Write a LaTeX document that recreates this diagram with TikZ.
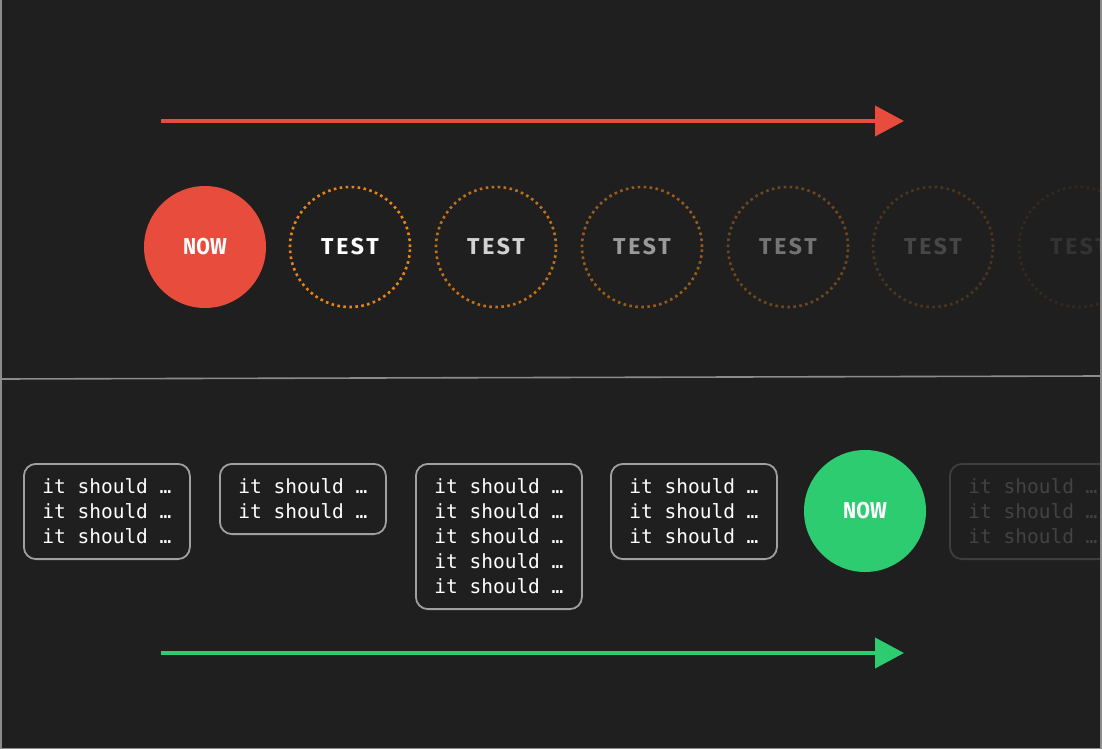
\documentclass[tikz,border=0pt]{standalone}
\usepackage{fontspec}
\setmainfont{Fira Sans}
\newfontfamily\codefont{DejaVu Sans Mono}
\usetikzlibrary{arrows.meta}
\definecolor{bg}{HTML}{1F1F1F}
\definecolor{nowred}{HTML}{E84C3D}
\definecolor{nowgreen}{HTML}{2ECC71}
\definecolor{dotorange}{HTML}{E8851A}
\definecolor{frame}{HTML}{8C8C8C}
\definecolor{boxgray}{HTML}{A0A0A0}
\newcommand{\nowtext}{\raisebox{-2.5pt}{\scalebox{0.86}[1]{NOW}}}
\newcommand{\testtext}{\raisebox{-2.5pt}{\addfontfeature{LetterSpace=12}TEST}}
\tikzset{
  x=1pt,y=-1pt,
  nowcircle/.style={circle,minimum size=122pt,inner sep=0pt,text=white,font=\fontsize{23}{23}\selectfont\bfseries},
  testcircle/.style={circle,minimum size=120pt,inner sep=0pt,draw=dotorange,line width=2.6pt,dash pattern=on 2.6pt off 3.4pt,font=\fontsize{23}{23}\selectfont\bfseries},
  specbox/.style={draw=boxgray,line width=1.8pt,rounded corners=12pt,inner xsep=18pt,inner ysep=15pt,minimum width=166pt,text=white,align=left,anchor=north west,font=\codefont\fontsize{19.5}{25}\selectfont},
  timearrow/.style={line width=4pt,-{Triangle[length=29pt,width=30pt]}},
}
\begin{document}
\begin{tikzpicture}
\useasboundingbox (0,0) rectangle (1102,749);
\fill[bg] (0,0) rectangle (1102,749);
\begin{scope}
\clip (0,0) rectangle (1100,749);
% top row
\node[nowcircle,fill=nowred] (now1) at (205,247) {\nowtext};
\node[testcircle,text=white] (t1) at (350,247) {\testtext};
\node[testcircle,draw opacity=0.8,text=white!80!bg] (t2) at (496,247) {\testtext};
\node[testcircle,draw opacity=0.6,text=white!55!bg] (t3) at (642,247) {\testtext};
\node[testcircle,draw opacity=0.4,text=white!38!bg] (t4) at (788,247) {\testtext};
\node[testcircle,draw opacity=0.22,text=white!18!bg] (t5) at (933,247) {\testtext};
\node[testcircle,draw opacity=0.1,text=white!9!bg] (t6) at (1079,247) {\testtext};
\coordinate (ra) at (161,121);
\coordinate (rb) at (904,121);
\draw[timearrow,nowred] (ra) -- (rb);
% divider
\coordinate (d1) at (0,379);
\coordinate (d2) at (1100,376);
\draw[frame,line width=1.6pt] (d1) -- (d2);
% bottom row
\node[specbox] (b1) at (23,463) {it should …\\it should …\\it should …};
\node[specbox] (b2) at (219,463) {it should …\\it should …};
\node[specbox] (b3) at (415,463) {it should …\\it should …\\it should …\\it should …\\it should …};
\node[specbox] (b4) at (610,463) {it should …\\it should …\\it should …};
\node[nowcircle,fill=nowgreen] (now2) at (865,511) {\nowtext};
\node[specbox,draw=white!14!bg,text=white!16!bg] (b5) at (949,463) {it should …\\it should …\\it should …};
\coordinate (ga) at (161,653);
\coordinate (gb) at (904,653);
\draw[timearrow,nowgreen] (ga) -- (gb);
\end{scope}
% frame
\draw[frame,line width=1.5pt] (0.75,0) -- (0.75,748.25) -- (1100.75,748.25) -- (1100.75,0);
\end{tikzpicture}
\end{document}
